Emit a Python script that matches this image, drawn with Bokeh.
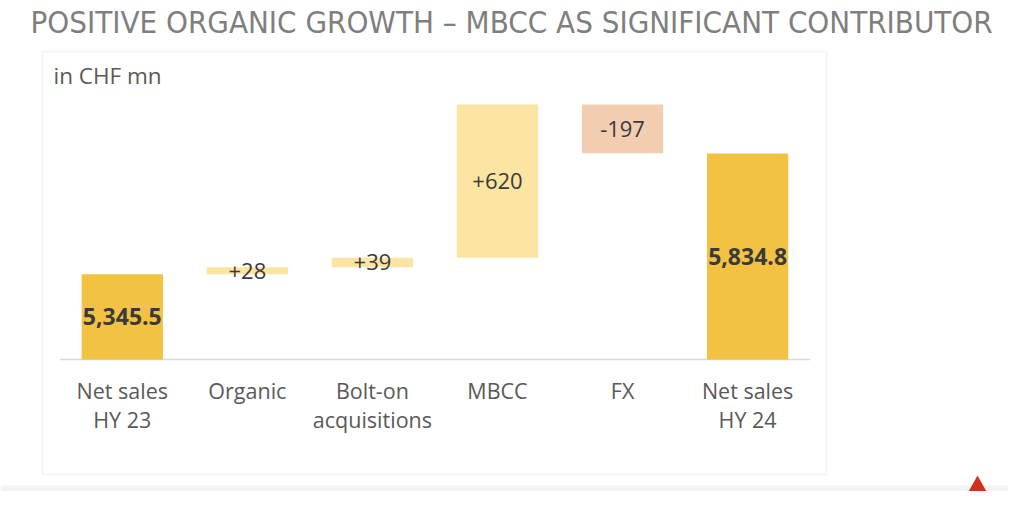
from bokeh.plotting import figure
from bokeh.models import ColumnDataSource, Range1d, Label, BoxAnnotation, PolyAnnotation
from bokeh.core.properties import value
from bokeh.embed import file_html
from bokeh.resources import INLINE

# ---- data ----
categories = ["Net sales\nHY 23", "Organic", "Bolt-on\nacquisitions", "MBCC", "FX", "Net sales\nHY 24"]
start_total = 5345.5
deltas = [28, 39, 620, -197]
end_total = 5834.8
value_labels = ["5,345.5", "+28", "+39", "+620", "-197", "5,834.8"]
axis_floor = 5000  # truncated value axis starts here

# ---- waterfall geometry from data ----
bottoms, tops = [axis_floor], [start_total]
run = start_total
for d in deltas:
    bottoms.append(min(run, run + d))
    tops.append(max(run, run + d))
    run += d
bottoms.append(axis_floor)
tops.append(end_total)

TOTAL = "#F4C242"
UP = "#FCE4A2"
DOWN = "#F2CDB1"
colors = [TOTAL] + [UP if d > 0 else DOWN for d in deltas] + [TOTAL]
xs = list(range(len(categories)))
mids = [(b + t) / 2 for b, t in zip(bottoms, tops)]
bold = ["bold"] + ["normal"] * len(deltas) + ["bold"]
fsize = ["23px"] + ["22px"] * len(deltas) + ["23px"]

src = ColumnDataSource(dict(x=xs, bottom=bottoms, top=tops, color=colors,
                            mid=mids, label=value_labels, style=bold, fs=fsize,
                            cat=categories))

# ---- figure: frame covers full canvas ----
W, H = 1008, 491
px_per_cat = 125.06
x0_px = 121.8          # canvas px of first category centre
units_per_px = 4.05
floor_px = 359         # canvas px (from top) of the axis floor

x_range = Range1d(-x0_px / px_per_cat, (W - x0_px) / px_per_cat)
y_range = Range1d(axis_floor - (H - floor_px) * units_per_px,
                  axis_floor + floor_px * units_per_px)

p = figure(width=W, height=H, x_range=x_range, y_range=y_range,
           output_backend="svg", toolbar_location=None,
           x_axis_location=None, y_axis_location=None,
           min_border=0, outline_line_color=None)
p.grid.visible = False
p.background_fill_color = "white"
p.border_fill_color = "white"

FONT = value("Open Sans")
S = dict(left_units="screen", right_units="screen",
         bottom_units="screen", top_units="screen")

# panel box
p.add_layout(BoxAnnotation(left=42, right=826, bottom=17, top=440, **S,
                           fill_alpha=0, line_color="#dedede", line_width=2))
# footer shading
p.add_layout(BoxAnnotation(left=0, right=W, bottom=0, top=6, **S,
                           fill_color="#f3f3f3", fill_alpha=1, line_color=None))
# logo hint
p.add_layout(PolyAnnotation(xs=[968, 977, 986], ys=[0, 16, 0],
                            xs_units="screen", ys_units="screen",
                            fill_color="#d42e1f", fill_alpha=1, line_color=None))

# baseline
n = len(categories)
p.line([-0.5, n - 0.5], [axis_floor, axis_floor], line_color="#d9d9d9", line_width=1.5)

# bars
p.vbar(x="x", bottom="bottom", top="top", width=0.65, fill_color="color",
       line_color=None, source=src)

# value labels
p.text(x="x", y="mid", text="label", source=src, text_align="center",
       text_baseline="middle", text_font=FONT, text_font_size="fs",
       text_font_style="style", text_color="#3a3a3a")

# category labels
p.text(x="x", y=axis_floor - 16 * units_per_px, text="cat", source=src,
       text_align="center", text_baseline="top", text_font=FONT,
       text_font_size="21.5px", text_color="#595959", text_line_height=1.02)

# title & unit
p.add_layout(Label(x=30, y=470, x_units="screen", y_units="screen",
                   text="POSITIVE ORGANIC GROWTH – MBCC AS SIGNIFICANT CONTRIBUTOR",
                   text_font="'Liberation Sans Narrow', 'DejaVu Sans Condensed', Lato",
                   text_font_size="31px", text_color="#7f7f7f",
                   text_baseline="alphabetic"))
p.add_layout(Label(x=53, y=416, x_units="screen", y_units="screen",
                   text="in CHF mn", text_font="Open Sans",
                   text_font_size="22.5px", text_color="#595959",
                   text_baseline="alphabetic"))

open("out.html", "w").write(file_html(p, INLINE))
